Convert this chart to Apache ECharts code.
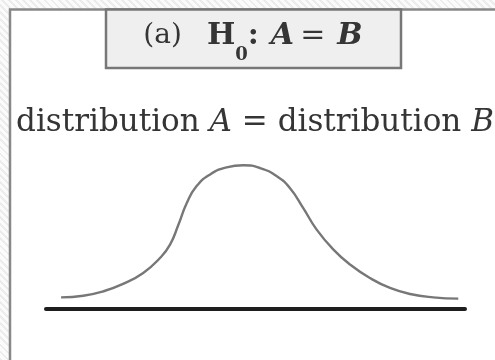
<!DOCTYPE html>
<html>
<head>
<meta charset="utf-8">
<script src="https://cdn.jsdelivr.net/npm/echarts@6/dist/echarts.min.js"></script>
<style>
  html, body { margin: 0; padding: 0; }
  body {
    width: 495px; height: 360px; overflow: hidden;
    background: repeating-linear-gradient(45deg, #ececec 0 2px, #fbfbfb 2px 5px);
  }
  #grafico { width: 495px; height: 360px; }
</style>
</head>
<body>
<div id="grafico"></div>
<script>
// curva (x em % da linha de base, y em % da altura do pico)
const curvaX = [3.6, 8.9, 13.7, 18.4, 23.2, 27.2, 29.6, 31.6, 33.6, 35.9, 39.1, 43.1, 47.1,
  51.1, 55.1, 58.2, 61.4, 64.6, 68.6, 72.6, 77.3, 82.1, 86.9, 92.4, 98.4];
const curvaY = [8.1, 9.2, 12.3, 17.4, 25.0, 35.4, 44.7, 58.5, 73.6, 85.2, 93.3, 98.4, 99.8,
  97.9, 92.2, 84.0, 70.1, 55.1, 41.2, 30.8, 21.5, 14.6, 10.4, 8.1, 7.2];

const TITULO_CAIXA = '{p|(a)}{h|H}{s|0}{h|:}{bi|A}{e|=}{bi|B}';
const TEXTO_DIST = '{r|distribution }{i|A}{r| = distribution }{i|B}';

const COR_TEXTO = '#353535';
const FONTE = '"DejaVu Serif", serif';

const chart = echarts.init(document.getElementById('grafico'));

chart.setOption({
  backgroundColor: 'transparent',
  animation: false,
  grid: { left: 46, right: 30, top: 165, bottom: 51 },
  xAxis: {
    type: 'value', min: 0, max: 100,
    axisLine: { show: true, lineStyle: { color: '#1e1e1e', width: 4 } },
    axisTick: { show: false }, axisLabel: { show: false }, splitLine: { show: false }
  },
  yAxis: {
    type: 'value', min: 0, max: 100, show: false
  },
  graphic: [
    // moldura externa
    { type: 'rect', z: -10, shape: { x: 10, y: 9.5, width: 600, height: 400 },
      style: { fill: '#fff', stroke: '#888', lineWidth: 2.5 } },
    // caixa do titulo
    { type: 'rect', z: -5, shape: { x: 106, y: 9.5, width: 295, height: 58.5 },
      style: { fill: '#efefef', stroke: '#777', lineWidth: 2.5 } },
    { type: 'text', x: 253, y: 38.5,
      style: {
        text: TITULO_CAIXA, align: 'center', verticalAlign: 'middle',
        fill: COR_TEXTO, fontFamily: FONTE,
        rich: {
          p: { fontSize: 28, fontFamily: FONTE, fill: COR_TEXTO, padding: [0, 25, 0, 0], verticalAlign: 'top', lineHeight: 34 },
          h: { fontSize: 30, fontWeight: 'bold', fontFamily: FONTE, fill: COR_TEXTO, verticalAlign: 'top', lineHeight: 34 },
          s: { fontSize: 18, fontWeight: 'bold', fontFamily: FONTE, fill: COR_TEXTO, padding: [25, 0, 0, 0], lineHeight: 18, verticalAlign: 'top' },
          bi: { fontSize: 30, fontWeight: 'bold', fontStyle: 'italic', fontFamily: FONTE, fill: COR_TEXTO, verticalAlign: 'top', lineHeight: 34, padding: [0, 0, 0, 12] },
          e: { fontSize: 30, fontFamily: FONTE, fill: COR_TEXTO, verticalAlign: 'top', lineHeight: 34, padding: [0, 0, 0, 6] }
        }
      } },
    // legenda da hipotese
    { type: 'text', x: 255, y: 123,
      style: {
        text: TEXTO_DIST, align: 'center', verticalAlign: 'middle',
        fill: COR_TEXTO, fontFamily: FONTE,
        rich: {
          r: { fontSize: 31, fontFamily: FONTE, fill: COR_TEXTO },
          i: { fontSize: 31, fontStyle: 'italic', fontFamily: FONTE, fill: COR_TEXTO }
        }
      } }
  ],
  series: [{
    type: 'line',
    data: curvaX.map((x, i) => [x, curvaY[i]]),
    smooth: true,
    symbol: 'none',
    lineStyle: { color: '#777', width: 2.4 }
  }]
});
</script>
</body>
</html>
